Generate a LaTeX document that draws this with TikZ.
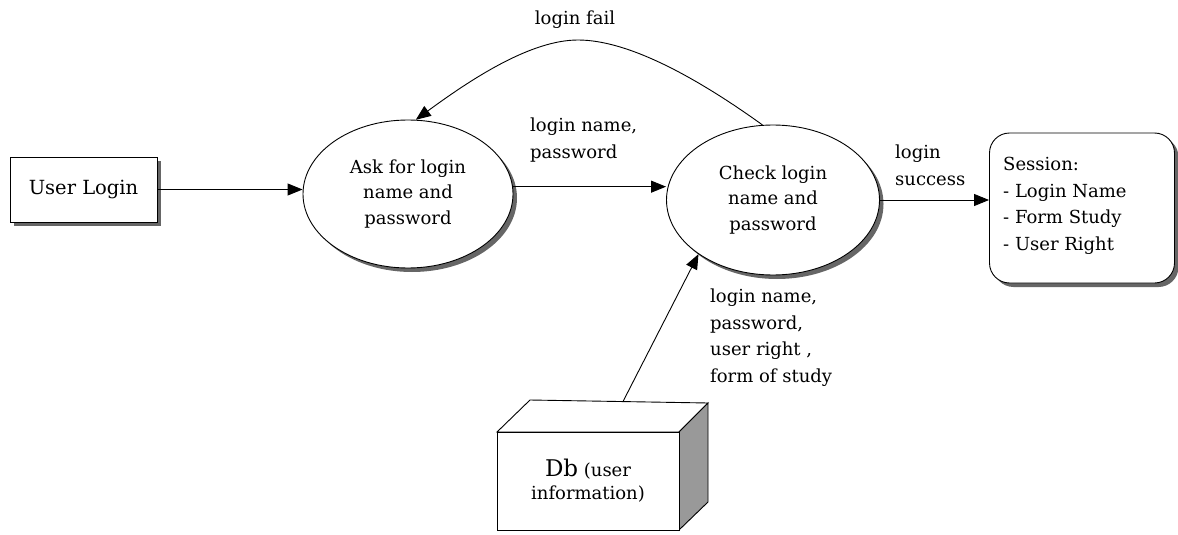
\documentclass[tikz,border=0pt]{standalone}
\usepackage{fontspec}
\setmainfont{DejaVu Serif}
\usetikzlibrary{shapes.geometric,arrows.meta,shadows}
\begin{document}
\begin{tikzpicture}[x=1pt,y=-1pt,
  txt/.style={font=\fontsize{18}{26.5}\selectfont,inner sep=0pt,align=left},
  shad/.style={drop shadow={shadow xshift=4pt,shadow yshift=-4pt,fill=black!60,opacity=1}},
  arr/.style={draw,line width=0.9pt,-{Triangle[length=15pt,width=12pt]}},
  proc/.style={ellipse,draw,line width=0.9pt,fill=white,shad,inner sep=0pt,align=center,font=\fontsize{18}{25.5}\selectfont},
  boxn/.style={rectangle,draw,line width=0.9pt,fill=white,shad,inner sep=0pt}
]
\useasboundingbox (0,0) rectangle (1178,535);

\node[boxn,minimum width=147pt,minimum height=65pt,font=\fontsize{19.5}{22}\selectfont] (user) at (83.5,189.5) {User Login};
\node[proc,minimum width=210pt,minimum height=148pt] (ask) at (408,194) {Ask for login\\name and\\password};
\node[proc,minimum width=213pt,minimum height=150pt] (check) at (773,200) {Check login\\name and\\password};
\node[boxn,rounded corners=20pt,minimum width=185pt,minimum height=150pt] (sess) at (1082,208) {};
\node[txt,anchor=base west] (sesstxt) at (1003,250) {Session:\\- Login Name\\- Form Study\\- User Right};

% Db box
\draw[line width=0.9pt,fill=white] (497,432) -- (530,400) -- (708,403) -- (679,432) -- cycle;
\draw[line width=0.9pt,fill=black!40] (679,432) -- (708,403) -- (708,502) -- (679,530) -- cycle;
\node[rectangle,draw,line width=0.9pt,fill=white,minimum width=182pt,minimum height=98pt,inner sep=0pt,align=center,font=\fontsize{18}{23}\selectfont] (db) at (588,481)
  {{\fontsize{23}{23}\selectfont Db} (user\\information)};
\coordinate (dbtop) at (623,401.5);

% connectors
\draw[arr] (user.east) -- (user.east -| ask.west);
\draw[arr] (ask.4) -- (ask.4 -| check.west);
\draw[arr] (check.east) -- (check.east -| sess.west);
\draw[arr] (dbtop) -- (check.216);
\draw[arr] (check.98) .. controls (700,80) and (630,40) .. (578,40) .. controls (530,40) and (470,80) .. (ask.84);

% labels
\node[txt,anchor=base] (lfail) at (575,25) {login fail};
\node[txt,anchor=base west] (lname) at (530,158) {login name,\\password};
\node[txt,anchor=base west] (lsucc) at (895,185) {login\\success};
\node[txt,anchor=base west] (ldb) at (710,382) {login name,\\password,\\user right ,\\form of study};
\end{tikzpicture}
\end{document}
